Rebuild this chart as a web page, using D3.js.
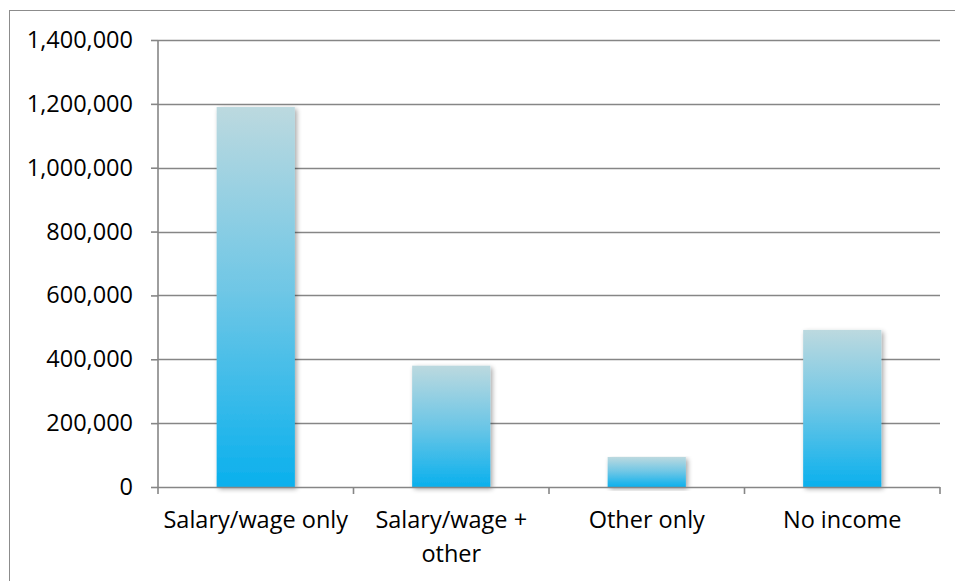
<!DOCTYPE html>
<html>
<head>
<meta charset="utf-8">
<script src="https://cdn.jsdelivr.net/npm/d3@7"></script>
<style>
  html, body { margin: 0; padding: 0; background: #fff; }
  svg { display: block; }
  text { font-family: "Open Sans", "Lato", sans-serif; fill: #000; }
</style>
</head>
<body>
<svg id="chart" width="955" height="581"></svg>
<script>
// Households by income source
const categories = ["Salary/wage only", "Salary/wage + other", "Other only", "No income"];
const categoryLines = [["Salary/wage only"], ["Salary/wage +", "other"], ["Other only"], ["No income"]];
const values = [1190000, 380000, 94000, 492000];
const yTicks = [0, 200000, 400000, 600000, 800000, 1000000, 1200000, 1400000];

const W = 955, H = 581;
const plot = { left: 158, right: 940, top: 40, bottom: 487 };
const fontSize = "23.5px";

const svg = d3.select("#chart");

// Frame around the chart area
svg.append("rect")
  .attr("x", 9.5).attr("y", 10.5)
  .attr("width", W + 10).attr("height", H + 10)
  .attr("fill", "none").attr("stroke", "#8c8c8c").attr("stroke-width", 1);

const x = d3.scaleBand().domain(categories).range([plot.left, plot.right]).paddingInner(0.6).paddingOuter(0.3);
const y = d3.scaleLinear().domain([0, 1400000]).range([plot.bottom, plot.top]);

const defs = svg.append("defs");
const grad = defs.append("linearGradient").attr("id", "barFill")
  .attr("x1", 0).attr("y1", 0).attr("x2", 0).attr("y2", 1);
grad.append("stop").attr("offset", "0%").attr("stop-color", "#bcd9df");
grad.append("stop").attr("offset", "50%").attr("stop-color", "#6cc6e6");
grad.append("stop").attr("offset", "100%").attr("stop-color", "#0ab0ed");

const shadow = defs.append("filter").attr("id", "barShadow")
  .attr("x", "-20%").attr("y", "-5%").attr("width", "140%").attr("height", "115%");
shadow.append("feGaussianBlur").attr("in", "SourceAlpha").attr("stdDeviation", 2.5).attr("result", "blur");
shadow.append("feOffset").attr("in", "blur").attr("dx", 1.5).attr("dy", 1.5).attr("result", "off");
shadow.append("feComponentTransfer").attr("in", "off").attr("result", "soft")
  .append("feFuncA").attr("type", "linear").attr("slope", 0.35);
const merge = shadow.append("feMerge");
merge.append("feMergeNode").attr("in", "soft");
merge.append("feMergeNode").attr("in", "SourceGraphic");

// Horizontal gridlines
svg.append("g")
  .selectAll("line")
  .data(yTicks.filter(d => d > 0))
  .join("line")
  .attr("x1", plot.left).attr("x2", plot.right)
  .attr("y1", d => Math.round(y(d)) + 0.5).attr("y2", d => Math.round(y(d)) + 0.5)
  .attr("stroke", "#868686").attr("stroke-width", 1.6);

// Y axis
const yAxis = svg.append("g")
  .attr("transform", `translate(${plot.left},0)`)
  .call(d3.axisLeft(y).tickValues(yTicks).tickFormat(d3.format(",")).tickSize(7).tickPadding(18));
yAxis.select(".domain").attr("stroke", "#868686").attr("stroke-width", 1.6).attr("d", `M0,${plot.top}V${plot.bottom}`);
yAxis.selectAll(".tick line").attr("stroke", "#868686").attr("stroke-width", 1.6);
yAxis.selectAll(".tick text").style("font-size", fontSize).attr("fill", "#000");

// Bars
svg.append("g")
  .selectAll("rect")
  .data(values)
  .join("rect")
  .attr("x", (d, i) => x(categories[i]))
  .attr("y", d => y(d))
  .attr("width", x.bandwidth())
  .attr("height", d => y(0) - y(d))
  .attr("fill", "url(#barFill)")
  .attr("filter", "url(#barShadow)");

// X axis line and boundary ticks
const boundaries = d3.range(categories.length + 1).map(i => plot.left + i * (plot.right - plot.left) / categories.length);
svg.append("line")
  .attr("x1", plot.left).attr("x2", plot.right)
  .attr("y1", plot.bottom + 0.5).attr("y2", plot.bottom + 0.5)
  .attr("stroke", "#868686").attr("stroke-width", 1.6);
svg.append("g").selectAll("line")
  .data(boundaries)
  .join("line")
  .attr("x1", d => d).attr("x2", d => d)
  .attr("y1", plot.bottom).attr("y2", plot.bottom + 7)
  .attr("stroke", "#868686").attr("stroke-width", 1.6);

// Category labels
const labels = svg.append("g").selectAll("text")
  .data(categoryLines)
  .join("text")
  .attr("text-anchor", "middle")
  .style("font-size", fontSize)
  .attr("x", (d, i) => x(categories[i]) + x.bandwidth() / 2)
  .attr("y", 528);
labels.selectAll("tspan")
  .data(d => d)
  .join("tspan")
  .attr("x", function() { return d3.select(this.parentNode).attr("x"); })
  .attr("dy", (d, i) => i === 0 ? 0 : 34)
  .text(d => d);
</script>
</body>
</html>
